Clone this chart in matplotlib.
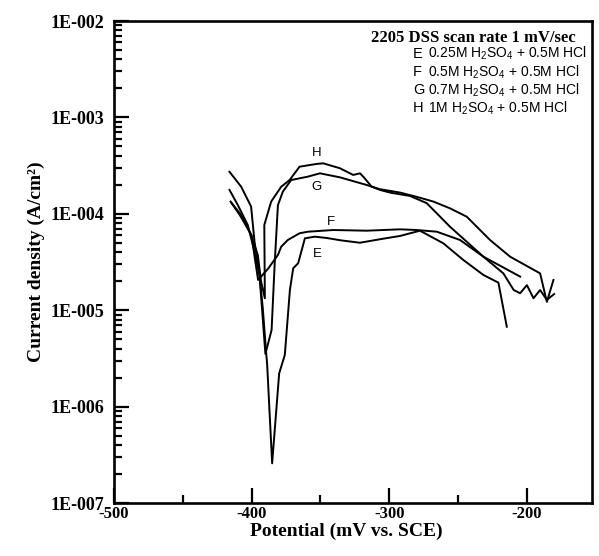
import matplotlib
matplotlib.use("Agg")
import matplotlib.pyplot as plt
from matplotlib.ticker import FixedLocator, LogLocator, NullFormatter

plt.rcParams['mathtext.fontset'] = 'custom'
plt.rcParams['mathtext.rm'] = 'Liberation Sans'
plt.rcParams['mathtext.it'] = 'Liberation Sans'

# ---------------- data ----------------
E_x = [-416.1, -407.6, -400.4, -397.9, -394.3, -391.9, -389.5, -388.7, -385.1,
       -380.0, -375.9, -372.2, -369.8, -366.2, -361.3, -354.0, -345.0, -335.0,
       -321.3, -305.0, -292.2, -277.7, -260.7, -246.2, -231.6, -220.7, -214.6]
E_y = [2.73e-4, 1.91e-4, 1.19e-4, 5.14e-5, 2.32e-5, 1.05e-5, 3.71e-6, 2.70e-6, 2.58e-7,
       2.21e-6, 3.43e-6, 1.62e-5, 2.72e-5, 3.07e-5, 5.57e-5, 5.79e-5, 5.6e-5, 5.3e-5,
       5.01e-5, 5.5e-5, 5.89e-5, 6.68e-5, 4.94e-5, 3.32e-5, 2.32e-5, 1.93e-5, 6.74e-6]

F_x = [-414.6, -408.6, -400.1, -397.7, -395.3, -388.0, -380.9, -378.5, -373.7,
       -365.2, -359.1, -340.7, -316.4, -292.2, -280.1, -265.5, -248.6, -231.6,
       -217.1, -209.6, -204.9, -200.0, -195.2, -190.4, -185.5, -180.2]
F_y = [1.29e-4, 9.7e-5, 6.03e-5, 3.48e-5, 2.06e-5, 2.7e-5, 3.74e-5, 4.56e-5, 5.35e-5,
       6.28e-5, 6.52e-5, 6.79e-5, 6.68e-5, 6.9e-5, 6.79e-5, 6.52e-5, 5.35e-5, 3.59e-5,
       2.41e-5, 1.62e-5, 1.50e-5, 1.82e-5, 1.33e-5, 1.62e-5, 1.28e-5, 1.47e-5]

G_x = [-416.1, -410.0, -402.8, -397.9, -394.3, -392.0, -390.0, -385.5, -383.3,
       -380.9, -377.3, -371.3, -359.1, -350.4, -335.9, -316.4, -306.8, -292.2,
       -280.1, -268.0, -255.9, -243.7, -226.8, -212.2, -190.4, -185.5, -180.7]
G_y = [1.77e-4, 1.23e-4, 7.65e-5, 4.04e-5, 2.32e-5, 8.5e-6, 3.52e-6, 6.23e-6, 2.94e-5,
       1.23e-4, 1.70e-4, 2.24e-4, 2.43e-4, 2.63e-4, 2.39e-4, 1.99e-4, 1.80e-4, 1.66e-4,
       1.50e-4, 1.34e-4, 1.14e-4, 9.33e-5, 5.35e-5, 3.59e-5, 2.41e-5, 1.22e-5, 2.06e-5]

H_x = [-415.3, -407.6, -400.4, -395.5, -393.1, -390.4, -390.6, -390.8, -385.8,
       -378.5, -372.4, -365.2, -352.8, -348.0, -335.9, -326.2, -321.3, -318.9,
       -312.8, -306.8, -299.5, -284.9, -272.8, -255.9, -231.6, -204.9]
H_y = [1.34e-4, 9.7e-5, 6.03e-5, 3.74e-5, 1.98e-5, 1.33e-5, 3.32e-5, 7.65e-5, 1.34e-4,
       1.91e-4, 2.24e-4, 3.08e-4, 3.29e-4, 3.34e-4, 2.97e-4, 2.53e-4, 2.63e-4, 2.43e-4,
       1.91e-4, 1.77e-4, 1.66e-4, 1.53e-4, 1.29e-4, 7.35e-5, 3.59e-5, 2.23e-5]

curve_names = ['E', 'F', 'G', 'H']
curve_label_x = [-352.0, -342.4, -352.8, -352.8]
curve_label_y = [3.83e-5, 8.28e-5, 1.88e-4, 4.3e-4]
legend_text = ['0.25M H$_2$SO$_4$ + 0.5M HCl',
               '0.5M H$_2$SO$_4$ + 0.5M HCl',
               '0.7M H$_2$SO$_4$ + 0.5M HCl',
               '1M H$_2$SO$_4$ + 0.5M HCl']
legend_title = '2205 DSS scan rate 1 mV/sec'

x_ticks = [-500, -400, -300, -200]
x_minor = [-450, -350, -250]
y_ticks = [1e-7, 1e-6, 1e-5, 1e-4, 1e-3, 1e-2]
y_ticklabels = ['1E-007', '1E-006', '1E-005', '1E-004', '1E-003', '1E-002']

# ---------------- figure ----------------
W, H = 599, 556
fig = plt.figure(figsize=(W / 100, H / 100), dpi=100)
ax = fig.add_axes([114 / W, 1 - 503 / H, (592 - 114) / W, (503 - 21) / H])

for xs, ys in [(E_x, E_y), (F_x, F_y), (G_x, G_y), (H_x, H_y)]:
    ax.plot(xs, ys, color='black', lw=1.4, solid_joinstyle='round')

ax.set_yscale('log')
ax.set_xlim(-500, -152.7)
ax.set_ylim(1e-7, 1e-2)

serif = 'Liberation Serif'
sans = 'Liberation Sans'

ax.xaxis.set_major_locator(FixedLocator(x_ticks))
ax.xaxis.set_minor_locator(FixedLocator(x_minor))
ax.set_xticklabels([str(v) for v in x_ticks], fontfamily=serif, fontweight='bold', fontsize=12)
ax.yaxis.set_major_locator(FixedLocator(y_ticks))
ax.yaxis.set_minor_locator(LogLocator(base=10, subs=range(2, 10)))
ax.yaxis.set_minor_formatter(NullFormatter())
ax.set_yticklabels(y_ticklabels, fontfamily=serif, fontweight='bold', fontsize=13)

ax.tick_params(which='major', direction='in', length=11, width=1.6, top=False, right=False)
ax.tick_params(which='minor', direction='in', length=5.5, width=1.6, top=False, right=False)
ax.tick_params(axis='x', which='major', pad=2)
ax.tick_params(axis='y', which='major', pad=7)
for s in ax.spines.values():
    s.set_linewidth(1.9)

ax.set_xlabel('Potential (mV vs. SCE)', fontfamily=serif, fontweight='bold', fontsize=14)
ax.xaxis.set_label_coords((346 - 114) / (592 - 114), -(531 - 503) / (503 - 21))
ax.xaxis.label.set_va('center')
ax.set_ylabel('Current density (A/cm²)', fontfamily=serif, fontweight='bold', fontsize=14, labelpad=4)

for n, lx, ly in zip(curve_names, curve_label_x, curve_label_y):
    ax.text(lx, ly, n, fontfamily=sans, fontsize=9.5, ha='center', va='center')

fig.text(371 / W, 1 - 37.5 / H, legend_title, fontfamily=serif, fontweight='bold',
         fontsize=12, ha='left', va='center')
rows_y = [53.5, 72, 90, 108]
for n, t, ry in zip(curve_names, legend_text, rows_y):
    fig.text(413 / W, 1 - ry / H, n, fontfamily=sans, fontsize=10.5, ha='left', va='center')
    fig.text(428 / W, 1 - ry / H, t, fontfamily=sans, fontsize=10, ha='left', va='center')

fig.savefig('out.png', dpi=100)
